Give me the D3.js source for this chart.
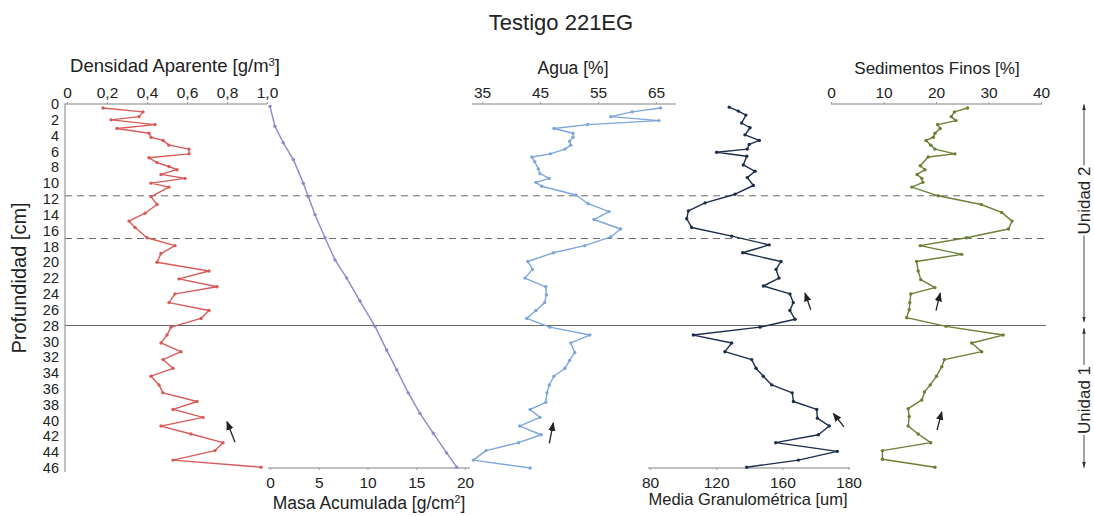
<!DOCTYPE html>
<html><head><meta charset="utf-8">
<script src="https://cdn.jsdelivr.net/npm/d3@7"></script>
<style>body{margin:0;background:#fff}svg{display:block}</style>
</head><body><svg id="c" width="1094" height="516"></svg>
<script>
// ---------- DATA ----------
const depthTicks = [0,2,4,6,8,10,12,14,16,18,20,22,24,26,28,30,32,34,36,38,40,42,44,46];

const densTicks = [0,0.2,0.4,0.6,0.8,1.0];
const densTickLabels = ["0","0,2","0,4","0,6","0,8","1,0"];
const densDepth = [0.5,1.0,1.6,2.0,2.6,3.1,3.7,4.2,4.6,5.2,5.7,6.3,6.8,7.4,7.9,8.3,8.9,9.4,10.0,10.5,11.7,12.7,13.8,14.8,15.6,16.9,17.9,18.9,20.0,21.1,22.1,23.1,
  24.0,25.1,26.1,27.1,28.2,29.2,30.2,31.3,32.3,33.4,34.4,35.5,36.5,37.6,38.6,39.6,40.7,41.7,42.8,43.8,45.0,45.9];
const densValue = [0.18,0.38,0.36,0.22,0.44,0.25,0.41,0.42,0.48,0.51,0.61,0.61,0.41,0.45,0.51,0.55,0.47,0.59,0.42,0.51,0.42,0.45,0.39,0.31,0.34,0.40,0.54,0.47,0.45,0.71,0.56,0.75,
  0.54,0.51,0.71,0.67,0.52,0.50,0.47,0.57,0.48,0.53,0.42,0.46,0.48,0.65,0.53,0.68,0.47,0.62,0.78,0.74,0.53,0.97];

const massTicks = [0,5,10,15,20];
const massTickLabels = ["0","5","10","15","20"];
const massDepth = [0.3,2.8,4.9,7.0,10.0,11.7,14.0,16.9,19.7,22.0,24.9,28.1,31.1,33.6,36.5,39.1,41.6,44.1,45.9];
const massValue = [0.0,0.5,1.36,2.39,3.41,3.93,4.62,5.64,6.67,7.87,9.23,10.77,11.97,13.0,14.18,15.38,16.74,18.12,19.15];

const aguaTicks = [35,45,55,65];
const aguaTickLabels = ["35","45","55","65"];
const aguaDepth = [0.5,1.0,1.6,2.1,2.6,3.1,3.7,4.2,4.7,5.2,5.7,6.3,6.7,7.3,8.2,8.8,9.4,9.9,10.4,11.5,12.6,13.6,14.6,15.8,16.8,17.9,18.8,19.9,20.9,22.0,23.1,
  24.1,25.1,26.1,27.1,28.2,29.2,30.2,31.4,32.4,33.4,34.4,35.5,36.5,37.7,38.6,39.6,40.7,41.8,42.8,43.8,45.0,46.0];
const aguaValue = [65.8,60.9,57.2,65.5,53.2,47.4,50.7,50.7,50.1,50.3,49.3,46.8,43.6,44.1,44.7,45.0,46.6,44.3,45.3,51.2,53.3,56.9,54.3,58.9,57.2,52.7,47.3,42.9,43.7,42.4,46.0,
  46.1,45.8,44.3,42.7,46.7,53.6,50.3,51.0,50.1,49.3,47.4,46.6,46.2,46.0,43.3,45.0,41.5,45.2,41.3,35.7,33.5,43.3];

const granTicks = [80,120,160,200];
const granTickLabels = ["80","120","160","180"];
const granDepth = [0.4,0.9,1.4,2.4,3.0,3.9,4.6,5.1,5.7,6.1,6.6,7.7,8.5,9.3,10.3,11.4,12.5,13.5,14.5,15.6,16.7,17.8,18.8,19.9,20.9,22.0,23.0,24.0,25.1,26.1,27.2,28.2,
  29.2,30.2,31.3,32.3,33.4,34.4,35.5,36.5,37.6,38.6,39.7,40.7,41.8,42.8,43.9,45.0,45.9];
const granValue = [127.9,133.4,138.0,135.4,140.5,137.4,146.1,140.0,138.8,120.3,138.5,136.4,143.5,138.8,142.5,131.4,113.3,103.2,102.2,105.2,129.4,152.1,136.0,159.2,156.2,158.0,148.5,164.6,166.6,164.6,167.7,146.5,
  106.2,129.4,125.3,141.5,144.1,148.5,153.6,166.0,166.7,180.8,181.2,188.4,181.8,156.0,193.2,169.7,138.5];

const sedTicks = [0,10,20,30,40];
const sedTickLabels = ["0","10","20","30","40"];
const sedDepth = [0.5,1.0,1.6,2.1,2.6,3.1,3.7,4.2,4.6,5.2,5.7,6.3,6.7,7.8,8.3,8.9,9.4,9.9,10.5,11.6,12.7,13.7,14.8,15.8,16.9,17.9,19.0,19.9,21.1,22.2,23.2,
  24.0,25.1,26.0,27.0,28.1,29.2,30.2,31.3,32.3,33.2,34.4,35.5,36.4,37.4,38.5,39.5,40.7,41.7,42.8,43.8,44.9,45.9];
const sedValue = [26.0,23.5,22.9,23.8,20.3,20.8,19.8,19.5,18.1,19.0,19.8,23.6,18.5,17.0,17.9,16.4,17.3,17.5,15.4,20.4,28.6,32.5,34.5,33.8,25.8,17.0,24.9,16.3,16.6,17.1,19.8,
  15.2,15.0,14.9,14.4,21.9,32.8,26.8,28.7,21.6,21.1,20.1,18.9,17.8,17.3,14.7,14.9,14.7,16.6,19.0,9.8,9.8,19.8];

// boundaries (depth, cm)
const dashedDepths = [11.6, 17.0];
const solidDepths = [28.0];
// units
const unitNames = ["Unidad 2","Unidad 1"];
const unitTop = [0, 28.3];
const unitBottom = [27.6, 46];
const unitLabelDepth = [12.2, 37.4];
// small trend arrows [series, depthTail, valueTail, depthHead, valueHead]
const arrowSeries = ["dens","agua","gran","gran","sed","sed"];
const arrowTail = [[42.75,0.84],[42.9,46.6],[26.0,177.2],[40.8,197.3],[26.1,20.0],[41.2,20.2]];
const arrowHead = [[40.15,0.80],[40.3,47.3],[23.9,173.7],[39.1,190.8],[23.9,20.8],[38.9,21.1]];

// ---------- DRAW ----------
const svg = d3.select("#c");
const FONT = "'Liberation Sans', Arial, sans-serif";
const TXT = "#222";
const AX = "#808080";

const y = d3.scaleLinear().domain([0,46]).range([104,468]);
const xs = {
  dens: d3.scaleLinear().domain([0,1]).range([67,267]),
  mass: d3.scaleLinear().domain([0,20]).range([270,465]),
  agua: d3.scaleLinear().domain([35,65]).range([482,656]),
  gran: d3.scaleLinear().domain([80,200]).range([650,848.5]),
  sed:  d3.scaleLinear().domain([0,40]).range([831,1041])
};

// title
svg.append("text").attr("x",561).attr("y",30).attr("text-anchor","middle")
  .style("font-family",FONT).style("font-size","22px").attr("fill",TXT).text("Testigo 221EG");

// reference lines
svg.selectAll("line.dash").data(dashedDepths).join("line").attr("class","dash")
  .attr("x1",65).attr("x2",1044).attr("y1",d=>y(d)).attr("y2",d=>y(d))
  .attr("stroke","#6a6a6a").attr("stroke-width",1).attr("stroke-dasharray","7,5");
svg.selectAll("line.solid").data(solidDepths).join("line").attr("class","solid")
  .attr("x1",65).attr("x2",1046).attr("y1",d=>y(d)).attr("y2",d=>y(d))
  .attr("stroke","#6a6a6a").attr("stroke-width",1.1);

// depth axis
const yAxis = d3.axisLeft(y).tickValues(depthTicks).tickFormat(d3.format("d")).tickSizeInner(0).tickSizeOuter(0).tickPadding(6);
const gy = svg.append("g").attr("transform","translate(65,0)").call(yAxis);
gy.select(".domain").remove();
gy.selectAll("text").style("font-family",FONT).style("font-size","14.5px").attr("fill",TXT);
svg.append("line").attr("x1",65).attr("x2",65).attr("y1",103.5).attr("y2",472).attr("stroke",AX);
svg.append("text").attr("transform","translate(26,278) rotate(-90)").attr("text-anchor","middle")
  .style("font-family",FONT).style("font-size","20px").attr("fill",TXT).text("Profundidad [cm]");

function topAxis(key, ticks, labels, x1, x2){
  const ax = d3.axisTop(xs[key]).tickValues(ticks).tickFormat((d,i)=>labels[i]).tickSizeInner(2).tickSizeOuter(0).tickPadding(4.5);
  const g = svg.append("g").attr("transform","translate(0,104)").call(ax);
  g.select(".domain").remove();
  g.selectAll(".tick line").attr("stroke","#aaa");
  g.selectAll("text").style("font-family",FONT).style("font-size","15.5px").attr("fill",TXT);
  svg.append("line").attr("x1",x1).attr("x2",x2).attr("y1",104).attr("y2",104).attr("stroke",AX);
}
function bottomAxis(key, ticks, labels, x1, x2){
  const ax = d3.axisBottom(xs[key]).tickValues(ticks).tickFormat((d,i)=>labels[i]).tickSizeInner(2).tickSizeOuter(0).tickPadding(6.5);
  const g = svg.append("g").attr("transform","translate(0,468)").call(ax);
  g.select(".domain").remove();
  g.selectAll(".tick line").attr("stroke","#aaa");
  g.selectAll("text").style("font-family",FONT).style("font-size","15.5px").attr("fill",TXT);
  svg.append("line").attr("x1",x1).attr("x2",x2).attr("y1",468).attr("y2",468).attr("stroke",AX);
}
topAxis("dens", densTicks, densTickLabels, 65, 267);
topAxis("agua", aguaTicks, aguaTickLabels, 472, 676);
topAxis("sed", sedTicks, sedTickLabels, 831, 1042);
bottomAxis("mass", massTicks, massTickLabels, 268, 470);
bottomAxis("gran", granTicks, granTickLabels, 648, 850);

function title(x, yy, size, parts){
  const t = svg.append("text").attr("x",x).attr("y",yy).attr("text-anchor","middle")
    .style("font-family",FONT).style("font-size",size+"px").attr("fill",TXT);
  parts.forEach(p=>{
    const s = t.append("tspan").text(p.t);
    if(p.sup){ s.attr("dy",-6).style("font-size",(size*0.6)+"px"); }
    if(p.after){ s.attr("dy",6); }
  });
}
title(175, 71.5, 18.5, [{t:"Densidad Aparente [g/m"},{t:"3",sup:true},{t:"]",after:true}]);
title(573, 74, 17.5, [{t:"Agua [%]"}]);
title(937, 74, 17, [{t:"Sedimentos Finos [%]"}]);
title(369, 509, 17.5, [{t:"Masa Acumulada [g/cm"},{t:"2",sup:true},{t:"]",after:true}]);
title(748, 505, 16.5, [{t:"Media Granulométrica [um]"}]);

// series
const series = [
  {key:"dens", d:densDepth, v:densValue, color:"#d95a5a"},
  {key:"mass", d:massDepth, v:massValue, color:"#9286cc"},
  {key:"agua", d:aguaDepth, v:aguaValue, color:"#7ea6dc"},
  {key:"gran", d:granDepth, v:granValue, color:"#1d2d4c"},
  {key:"sed",  d:sedDepth,  v:sedValue,  color:"#6b7f35"}
];
series.forEach(s=>{
  const pts = s.d.map((dd,i)=>[dd, s.v[i]]);
  const line = d3.line().x(p=>xs[s.key](p[1])).y(p=>y(p[0]));
  svg.append("path").datum(pts).attr("d",line).attr("fill","none")
    .attr("stroke",s.color).attr("stroke-width",1.4).attr("stroke-linejoin","round");
  svg.append("g").selectAll("circle").data(pts).join("circle")
    .attr("cx",p=>xs[s.key](p[1])).attr("cy",p=>y(p[0])).attr("r",1.7).attr("fill",s.color);
});

// markers
const defs = svg.append("defs");
defs.append("marker").attr("id","ah").attr("viewBox","0 0 10 10").attr("refX",9).attr("refY",5)
  .attr("markerWidth",7).attr("markerHeight",7).attr("orient","auto-start-reverse")
  .append("path").attr("d","M0,1 L10,5 L0,9 z").attr("fill","#222");
defs.append("marker").attr("id","uh").attr("viewBox","0 0 10 10").attr("refX",9).attr("refY",5)
  .attr("markerWidth",6).attr("markerHeight",6).attr("orient","auto-start-reverse")
  .append("path").attr("d","M0,2 L10,5 L0,8 z").attr("fill","#333");

// trend arrows
arrowSeries.forEach((k,i)=>{
  svg.append("line")
    .attr("x1",xs[k](arrowTail[i][1])).attr("y1",y(arrowTail[i][0]))
    .attr("x2",xs[k](arrowHead[i][1])).attr("y2",y(arrowHead[i][0]))
    .attr("stroke","#222").attr("stroke-width",1.3).attr("marker-end","url(#ah)");
});

// units
const UX = 1084;
unitNames.forEach((name,i)=>{
  const t = svg.append("text").attr("transform",`translate(${UX+6},${y(unitLabelDepth[i])}) rotate(-90)`)
    .attr("text-anchor","middle").style("font-family",FONT).style("font-size","17px").attr("fill",TXT).text(name);
  const len = t.node().getComputedTextLength();
  const cy = y(unitLabelDepth[i]);
  svg.append("line").attr("x1",UX).attr("x2",UX).attr("y1",cy-len/2-1).attr("y2",y(unitTop[i])+0.5)
    .attr("stroke","#444").attr("stroke-width",1).attr("marker-end","url(#uh)");
  svg.append("line").attr("x1",UX).attr("x2",UX).attr("y1",cy+len/2+1).attr("y2",y(unitBottom[i])-0.5)
    .attr("stroke","#444").attr("stroke-width",1).attr("marker-end","url(#uh)");
});
</script>
</body></html>
